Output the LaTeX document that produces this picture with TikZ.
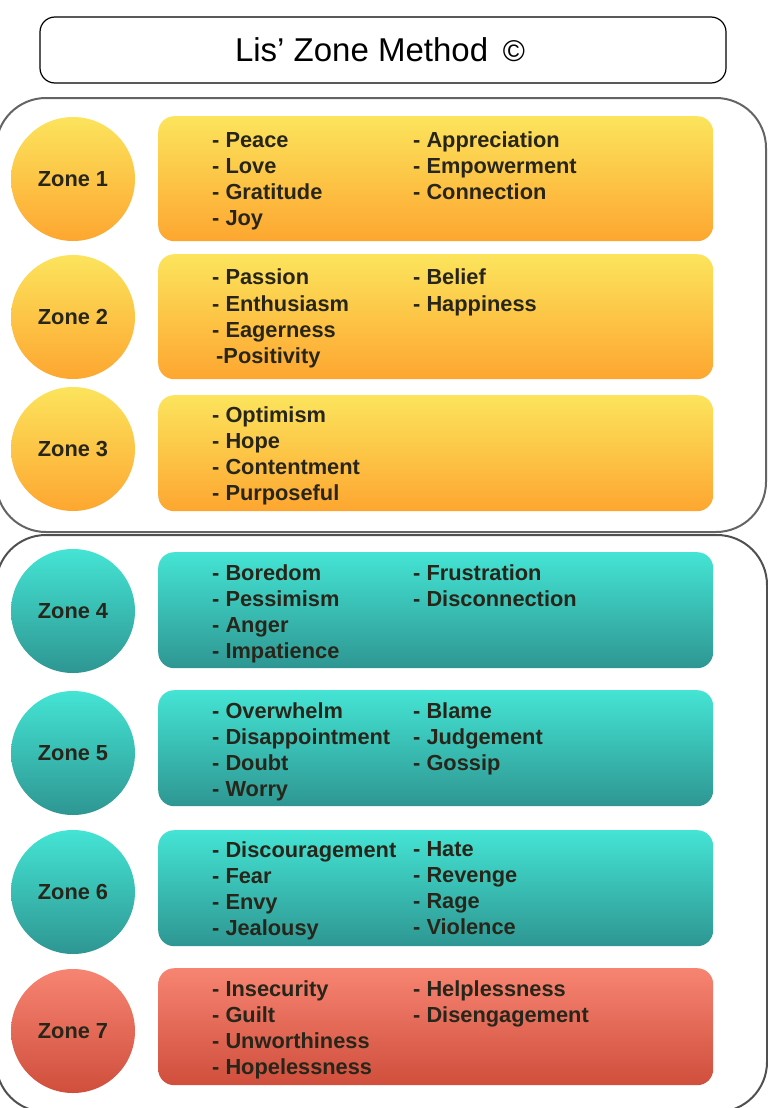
\documentclass[tikz,border=0pt]{standalone}
\usepackage{fontspec}
\setmainfont{Liberation Sans}
\usetikzlibrary{positioning}
\definecolor{sunTop} {RGB}{252,228,92}
\definecolor{sunBot} {RGB}{253,166,48}
\definecolor{tealTop}{RGB}{68,228,212}
\definecolor{tealBot}{RGB}{46,150,146}
\definecolor{redTop} {RGB}{247,132,114}
\definecolor{redBot} {RGB}{208,78,60}
\definecolor{ink}    {RGB}{40,38,26}
\definecolor{frame}  {RGB}{100,100,100}

\begin{document}
\begin{tikzpicture}[
  x=1pt,y=-1pt,
  zone/.style={circle,minimum size=124pt,inner sep=0pt,text=ink,font=\fontsize{21.8}{25}\bfseries\selectfont},
  box/.style={rounded corners=16pt,minimum width=555pt,anchor=north west,inner sep=0pt},
  list/.style={anchor=north west,align=left,inner sep=0pt,text=ink,font=\fontsize{21.8}{26}\bfseries\selectfont},
  sun/.style={top color=sunTop,bottom color=sunBot},
  sea/.style={top color=tealTop,bottom color=tealBot},
  ember/.style={top color=redTop,bottom color=redBot}]
  \useasboundingbox[fill=white](0,0) rectangle (768,1108);
  % title and the two groups
  \node[draw,line width=1.2pt,rounded corners=15pt,minimum width=686pt,minimum height=66pt](title) at(383,50){};
  \node[font=\fontsize{33}{36}\selectfont](name) at(380,50){Lis’ Zone Method \,{\fontsize{30}{34}\selectfont ©}};
  \draw[frame,line width=2pt,rounded corners=50pt](-4,98) rectangle (766,532);
  \draw[frame!80!black,line width=2pt,rounded corners=50pt](-4,535) rectangle (767,1112);
  % zone 1
  \node[zone,sun](z1) at(73,179){Zone 1};
  \node[box,sun,minimum height=125pt](b1) at(158,116){};
  \node[list](l1a) at(212,132){- Peace\\- Love\\- Gratitude\\- Joy};
  \node[list](l1b) at(413,132){- Appreciation\\- Empowerment\\- Connection};
  % zone 2
  \node[zone,sun](z2) at(73,317){Zone 2};
  \node[box,sun,minimum height=125pt](b2) at(158,254){};
  \node[list](l2a) at(212,269){- Passion\\- Enthusiasm\\- Eagerness\\\hspace*{4pt}-Positivity};
  \node[list](l2b) at(413,269){- Belief\\- Happiness};
  % zone 3
  \node[zone,sun](z3) at(73,449){Zone 3};
  \node[box,sun,minimum height=116pt](b3) at(158,395){};
  \node[list](l3a) at(212,406){- Optimism\\- Hope\\- Contentment\\- Purposeful};
  % zone 4
  \node[zone,sea](z4) at(73,611){Zone 4};
  \node[box,sea,minimum height=116pt](b4) at(158,552){};
  \node[list](l4a) at(212,564){- Boredom\\- Pessimism\\- Anger\\- Impatience};
  \node[list](l4b) at(413,564){- Frustration\\- Disconnection};
  % zone 5
  \node[zone,sea](z5) at(73,753){Zone 5};
  \node[box,sea,minimum height=116pt](b5) at(158,690){};
  \node[list](l5a) at(212,702){- Overwhelm\\- Disappointment\\- Doubt\\- Worry};
  \node[list](l5b) at(413,702){- Blame\\- Judgement\\- Gossip};
  % zone 6
  \node[zone,sea](z6) at(73,892){Zone 6};
  \node[box,sea,minimum height=116pt](b6) at(158,830){};
  \node[list](l6a) at(212,841){- Discouragement\\- Fear\\- Envy\\- Jealousy};
  \node[list](l6b) at(413,841){- Hate\\- Revenge\\- Rage\\- Violence};
  % zone 7
  \node[zone,ember](z7) at(73,1031){Zone 7};
  \node[box,ember,minimum height=117pt](b7) at(158,968){};
  \node[list](l7a) at(212,980){- Insecurity\\- Guilt\\- Unworthiness\\- Hopelessness};
  \node[list](l7b) at(413,980){- Helplessness\\- Disengagement};
\end{tikzpicture}
\end{document}
